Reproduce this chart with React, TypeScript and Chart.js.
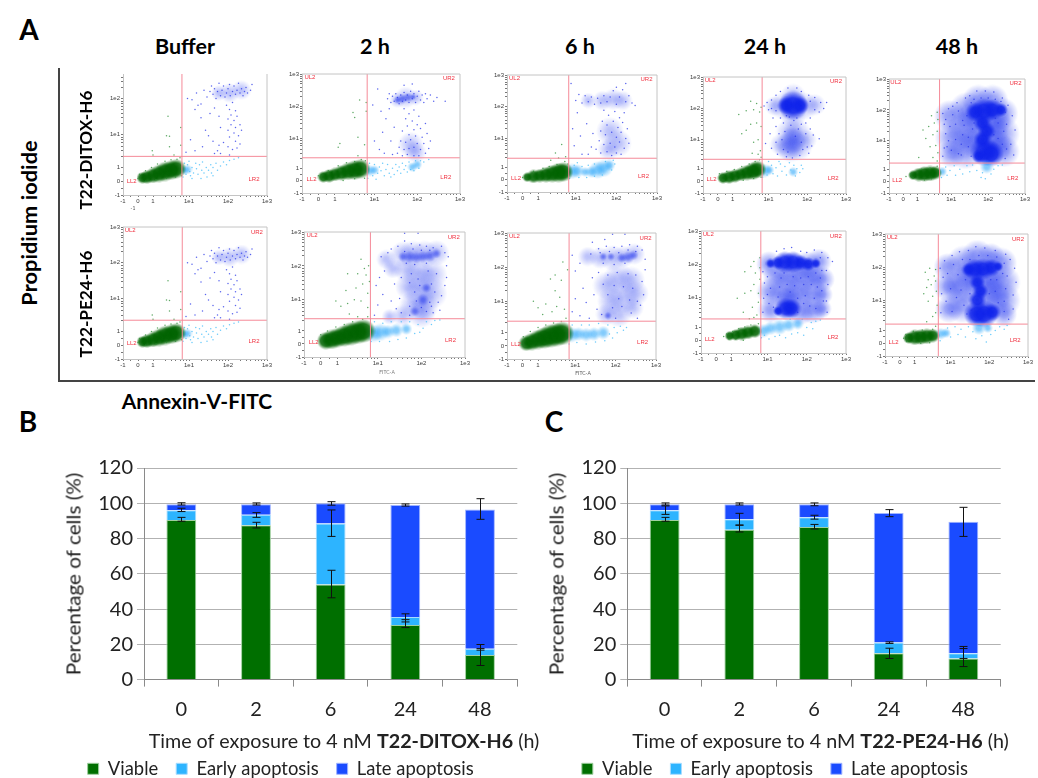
import React, { useEffect, useRef } from "react";
import { Chart, registerables } from "chart.js";
Chart.register(...registerables);

// ---------- Bar charts ----------
const hours = ["0", "2", "6", "24", "48"];
const legendNames = ["Viable", "Early apoptosis", "Late apoptosis"];
const bViable = [90.5, 87.5, 54, 31, 14];
const bEarly = [5.5, 6, 34.5, 4.5, 3.5];
const bLate = [3.5, 6, 11.5, 63.5, 79];
const cViable = [90.5, 85, 86.5, 15, 12];
const cEarly = [5.5, 6, 5.5, 6, 3];
const cLate = [3.5, 8.5, 7.5, 73.5, 74.5];
const bErrors = [
  [0, 89.8, 92], [0, 95.3, 97.2], [0, 99, 100.3],
  [1, 86, 89.2], [1, 92, 94.7], [1, 99, 100.2],
  [2, 46.4, 62], [2, 81.2, 96.2], [2, 98.9, 100.9],
  [3, 29.5, 34], [3, 32.7, 37.3], [3, 98.4, 99.6],
  [4, 8, 17.6], [4, 16.7, 19.9], [4, 90.9, 102.6],
];
const cErrors = [
  [0, 89.8, 92], [0, 93.7, 98.5], [0, 99, 100.2],
  [1, 83.7, 87.5], [1, 87.7, 94.3], [1, 99, 100.2],
  [2, 85.4, 88], [2, 91, 93.2], [2, 98.6, 100.2],
  [3, 12, 17.8], [3, 20.5, 21.4], [3, 92.4, 96.4],
  [4, 7.4, 17.6], [4, 12, 18.8], [4, 81.2, 97.7],
];

// ---------- Flow cytometry axes (display units of the biexponential axis) ----------
const axisTicks = [-1, 0, 1, 3.4, 6, 8.6];
const axisTickLabels = ["-1", "0", "1", "1e1", "1e2", "1e3"];
const minorTicks = [-0.5, 0.5, 1.8, 2.2, 2.5, 2.8, 3.0, 3.2, 4.2, 4.6, 4.9, 5.2, 5.4, 5.6, 5.8, 6.8, 7.2, 7.5, 7.8, 8.0, 8.2, 8.4];

// Buffer
const bufGreenCore = [[0.3,0.25,4],[0.6,0.3,5],[1,0.42,5.5],[1.4,0.55,6],[1.8,0.7,6.5],[2.2,0.8,7],[2.55,0.9,6.5]];
const bufGreenDots = [[0,0.2],[0.1,0.5],[0.5,0.75],[0.9,1],[1.3,1.25],[1.8,1.45],[2.2,1.55],[2.6,1.6],[2.8,1.7],[2.4,1.9],[1,1.9],[0.95,2.2],[2.1,2.5],[2.85,2.6],[1.9,3.3],[2.1,3.25],[2.85,3.9],[2,4.7],[0.5,0],[1.2,0.1],[1.9,0.2],[2.5,0.3],[2.9,0.4]];
const bufLightCore = [[3.05,0.8,3.5],[3.3,0.85,3]];
const bufLightDots = [[3,0.3],[3.1,1.3],[3.2,0.5],[3.3,1.2],[3.45,0.7],[3.4,1.45],[3.5,0.4],[3.6,1],[3.7,0.6],[3.85,1.3],[3.9,0.9],[4,0.5],[4.1,1.2],[4.25,0.8],[4.3,1.4],[4.4,0.6],[4.55,1],[4.6,0.3],[4.7,0.8],[4.85,1.2],[4.9,0.6],[5,1],[5.2,1.3],[5.3,0.8],[5.5,1.1],[5.7,1.4],[5.9,1.2],[6.1,1.5],[6.4,1.6],[6.7,1.7],[3.6,0.2],[4.2,0.2],[5,0.4]];
const bufBlueHaze = [[5.4,6.4,5],[6.1,6.4,6],[6.9,6.6,6]];
const bufBlueDots = [[3.6,5.9],[3.9,6.4],[4.2,5.6],[4.4,6.6],[4.6,6.1],[4.8,6.5],[4.9,6.9],[5,6.3],[5.1,6.7],[5.2,6],[5.3,6.5],[5.4,7.1],[5.5,6.2],[5.6,6.6],[5.7,6.9],[5.8,6.1],[5.9,6.4],[6,6.7],[6.1,7],[6.15,6.2],[6.3,6.5],[6.4,6.9],[6.5,6.3],[6.6,6.6],[6.7,7.1],[6.8,6.4],[6.9,6.7],[7,6.2],[7.1,6.5],[7.2,6.8],[7.3,6.4],[7.5,6.6],[7.6,7],[5.9,5.5],[6.1,5.2],[6.3,5.7],[6.5,5.1],[6.2,4.8],[6,4.5],[6.4,4.4],[6.6,4.7],[6.2,4.1],[6.5,3.9],[6.8,4.1],[6,3.7],[6.4,3.5],[6.7,3.3],[6.9,3.7],[6.1,3.2],[6.5,2.9],[6.8,2.7],[5.7,2.8],[6,2.5],[6.3,2.3],[6.6,2.4],[5.3,2.2],[5.4,2.6],[5.1,2],[5.5,2],[6.1,1.9],[3.2,2.1],[3.5,3],[3.8,5.2],[3.3,6],[4.2,4.6],[4.5,3.7],[4.7,3.3],[4.8,4.9],[5.1,5.3],[4.3,2.5],[5,2.9],[3.8,2.2],[4,5.5],[5.5,3.9],[5.4,4.7]];

// 2 h DITOX
const d2GreenCore = [[0.3,0.3,4],[0.65,0.38,4.5],[1,0.5,5],[1.4,0.62,5.5],[1.8,0.75,6],[2.2,0.85,6.5],[2.55,0.95,6.5]];
const d2GreenDots = [[0,0.4],[0.6,0.8],[1.2,1.2],[1.7,1.45],[2.2,1.55],[2.6,1.7],[2.85,1.6],[2.4,2],[1.2,2.7],[1.3,3],[2.4,3.5],[2.8,2.9],[2.1,5.5],[2.5,6.5],[2.9,6.3],[2.2,5.1],[2.9,5.6],[1.5,0],[2.2,0.15],[2.8,0.2]];
const d2LightCore = [[3.1,0.8,4],[3.4,0.85,3.5],[5.7,1.1,3.5],[6,1.3,3]];
const d2LightDots = [[3,0.2],[3.1,1.4],[3.3,0.4],[3.4,1.3],[3.6,0.6],[3.7,1.1],[3.8,0.8],[3.9,1.4],[4,0.4],[4.1,0.9],[4.2,1.3],[4.3,0.6],[4.5,1],[4.6,0.5],[4.7,1.3],[4.8,0.8],[4.9,1.1],[5,0.6],[5.1,1.4],[5.2,0.9],[5.3,1.2],[5.4,0.7],[5.5,1.5],[5.6,0.9],[5.8,0.8],[5.9,1.6],[6.1,1],[6.2,1.6],[6.4,1.5],[6.7,1.7],[3.5,0.1],[4.4,0.3]];
const d2BlueHaze = [[4.8,6.5,5],[5.3,6.7,7],[5.9,6.7,5],[5.6,2.9,8],[5.9,2.3,7]];
const d2BlueCore = [[4.8,6.5,2.5],[5.1,6.6,3],[5.45,6.7,3],[5.75,6.75,2]];
const d2BlueDots = [[4.2,6.6],[4.3,7],[4.4,6.3],[4.5,6.8],[4.6,6.4],[4.7,7],[4.8,6.7],[4.9,6.2],[5,6.9],[5.1,6.4],[5.2,7.1],[5.3,6.5],[5.4,6.9],[5.5,6.3],[5.6,7.2],[5.7,6.6],[5.8,7],[5.9,6.3],[6,6.8],[6.1,7.2],[6.2,6.5],[6.3,6.9],[6.4,6.3],[6.5,7],[6.6,6.6],[6.8,6.9],[7,6.4],[7.2,6.7],[7.7,6.4],[3.6,7.4],[5.2,7.7],[5.7,7.8],[5.2,5.8],[5.5,5.4],[5.8,5.7],[6.1,5.2],[5.3,5],[5.7,4.8],[6,4.5],[5.4,4.4],[5.8,4.1],[6.2,4.2],[6.5,4.6],[5.1,4],[5.5,3.7],[5.9,3.6],[6.3,3.5],[6.6,3.8],[6.8,3.2],[5,3.2],[5.3,3.1],[5.6,3.3],[6,3],[6.4,3],[6.7,2.6],[4.9,2.7],[5.2,2.5],[5.5,2.6],[5.8,2.7],[6.2,2.5],[6.5,2.2],[4.5,2.1],[4.8,2.2],[5.1,2],[5.4,2.1],[5.8,2],[6.1,2],[3.4,3.2],[3.7,2.5],[3.9,3.9],[4.1,5],[4.4,3.2],[3.8,5.6],[3.3,6.1],[4.6,4.3],[4.3,5.8],[4,2.2]];

// 6 h DITOX
const d6GreenCore = [[0.3,0.22,3.5],[0.7,0.28,4.5],[1.1,0.34,5],[1.5,0.42,5.5],[1.9,0.5,6],[2.3,0.58,6.5],[2.6,0.65,6.5]];
const d6GreenDots = [[0,0.2],[0.7,0.7],[1.3,0.95],[1.7,1.1],[2.2,1.25],[2.7,1.5],[2.9,1.3],[2.1,2.2],[2.5,2.9],[2.3,1.8],[1.8,1.6],[2.75,1.9]];
const d6LightCore = [[3.15,0.7,5.5],[3.5,0.72,5],[4,0.65,3.5],[4.4,0.65,4],[4.8,0.8,6],[5.2,0.95,6],[5.55,1.2,4]];
const d6LightDots = [[3,0.1],[3.3,1.2],[3.6,0.2],[3.8,1.1],[4.1,0.2],[4.2,1.2],[4.6,0.3],[4.6,1.3],[5.1,0.4],[5.3,1.5],[5.7,0.8],[5.8,1.6],[3.5,1.4],[5.9,1.3]];
const d6BlueHaze = [[4.2,6.5,5],[5.1,6.5,6],[5.8,6.6,7],[6.4,6.5,6],[5.6,4,9],[6.1,3,9],[5.5,2.5,7]];
const d6BlueDots = [[3.4,6.5],[3.6,7],[3.8,6.3],[4,6.9],[4.2,6.4],[4.4,6.8],[4.6,6.2],[4.8,6.7],[5,6.3],[5.2,6.9],[5.4,6.4],[5.6,6.8],[5.8,7.3],[6,6.2],[6.2,6.8],[6.4,7.4],[6.6,6.4],[6.8,6.9],[7,6.3],[7.2,6.1],[6,7.6],[6.6,7.9],[5.2,5.7],[5.5,5.3],[5.9,5.6],[6.2,5.1],[6.5,5.5],[5.1,4.8],[5.4,4.5],[5.8,4.8],[6.1,4.3],[6.4,4.7],[6.7,4.2],[5,4],[5.3,3.7],[5.7,3.9],[6,3.5],[6.3,3.9],[6.6,3.4],[6.8,3],[4.9,3.2],[5.2,2.9],[5.6,3],[5.9,2.7],[6.2,3.1],[6.5,2.6],[4.7,2.5],[5,2.2],[5.4,2.3],[5.7,2],[6,2.2],[6.3,2.1],[4.2,2.1],[3.3,2.8],[3.7,3.6],[4.1,4.6],[3.5,5.5],[3.2,4.2],[4.5,3.8],[4.4,2.7],[3.8,2.1],[3.1,7.9]];

// 24 h DITOX
const d24GreenCore = [[0.35,0.25,4],[0.75,0.32,4.5],[1.15,0.42,5],[1.55,0.55,5],[1.95,0.68,5.5],[2.35,0.8,6],[2.65,0.95,6]];
const d24GreenDots = [[0.1,0.6],[0.6,0.8],[1.1,0.95],[1.6,1.2],[2.1,1.4],[2.5,1.6],[2.8,1.75],[2.9,1.95],[2.7,2.2],[2.85,2.5],[2.3,2.3],[1.6,3.9],[2.4,3.2],[2.7,3.4],[1.9,4.2],[2.2,4.7],[2.6,4.8],[2.9,4.5],[1.4,5.5],[1.9,5.8],[2.4,5.9],[2.8,5.7],[2.6,6.4],[2.9,6.1],[2.2,6.6],[1.7,0.05],[2.4,0.2],[2.9,0.3]];
const d24LightCore = [[3.15,0.85,5],[3.45,0.9,3.5],[5.05,0.75,3.5]];
const d24LightDots = [[3,0.3],[3.3,0.5],[3.6,1.3],[3.7,0.6],[3.9,1.1],[4,0.4],[4.2,1.4],[4.3,0.8],[4.5,1.2],[4.6,0.5],[4.8,1.5],[4.9,0.9],[5.1,1.3],[5.2,0.4],[5.3,1],[5.5,0.7],[5.6,1.3],[5.7,1],[3.4,1.6],[4.1,1.6]];
const d24BlueHaze = [[3.8,6.2,6],[4.4,6.2,9],[5.8,6.2,9],[6.5,6.3,7],[5.05,7,8],[5.05,5.4,8],[4.8,4,9],[5.3,4,9],[4.7,2.8,9],[5.4,2.8,9],[5.05,3.3,8],[4.2,3,7],[5.9,3.4,7],[5,3.4,8],[4.9,2.6,8]];
const d24BlueCore = [[5.05,6.25,11],[4.6,6.25,6],[5.5,6.25,6]];
const d24BlueDots = [[3.1,6.2],[3.4,5.9],[3.6,6.7],[3.9,7.1],[3.3,6.5],[4.2,7.4],[4.7,7.7],[5.3,7.7],[5.6,7.4],[6.1,7.1],[6.5,6.9],[6.9,6.5],[7.1,6],[7.3,6.5],[6.8,5.7],[6.2,5.2],[5.9,4.8],[6.2,4.3],[6.4,3.8],[6.8,3.5],[6.3,2.9],[6.1,2.3],[4,2.2],[3.6,2.7],[3.5,3.9],[3.9,4.5],[4.2,5.2],[3.7,5.2],[3.2,3.1],[4.4,4.8],[4.6,5.4],[5.6,4.7],[5.5,2.1],[4.6,2],[5,1.9],[4.3,3.4],[4.5,4.1],[4.7,2.4],[4.9,4.6],[5.2,3.7],[5.4,4.3],[5.6,3.2],[5.7,2.6],[4.4,2.6],[4.1,3.9],[5.1,5],[4.8,5.3],[5.3,5.2],[3.9,3.2],[5.9,3.9],[6,2.8],[3.9,5.8],[6.2,6.6],[6.5,5.9],[3.6,6]];

// 48 h DITOX
const d48GreenCore = [[0.7,0.5,3.5],[1.1,0.55,5],[1.5,0.6,5.5],[1.9,0.65,5.5],[2.25,0.7,4.5]];
const d48GreenDots = [[0.2,0.4],[0.5,0.6],[0.7,0.25],[1.3,1],[1.9,1.1],[2.4,1.25],[1.5,0.1],[2,0.2],[2.4,1.7],[2.1,2],[2.45,2.4],[1.9,2.9],[2.3,3],[1.6,3.6],[2.1,3.9],[2.4,4.2],[1.4,4.3],[1.8,4.6],[2.2,4.9],[2.45,5.2],[2,5.5],[2.4,5.8],[1.1,2]];
const d48LightCore = [[2.75,0.8,3.5],[5.9,1.2,4.5]];
const d48LightDots = [[2.7,0.3],[3,1.2],[3.1,0.5],[3.3,0.9],[3.6,1.3],[3.7,0.5],[4,1],[4.2,0.6],[4.5,1.3],[4.7,0.8],[4.9,1.35],[5.2,0.9],[5.5,0.3],[5.6,0.7],[5.8,0.2],[6.2,0.6],[6.4,1],[6.7,1.3],[7,1.35]];
const d48BlueHaze = [[3.3,5.5,10],[3.5,3.7,11],[3.4,2.3,9],[4.5,6,11],[4.4,4.3,12],[4.4,2.5,11],[5.3,6.8,10],[6.3,6.8,10],[7,5.7,10],[6.9,4,12],[7.1,2.5,10],[5.9,4.2,13],[4.9,5.3,10],[5,3.3,10],[6.5,5,10],[6.6,3,10]];
const d48BlueCore = [[5.1,5.8,7],[5.7,5.9,9],[6.3,6,8],[6.9,6,5],[5.6,4.9,6],[5.9,4.2,6],[5.6,3.5,6],[5.75,2.5,11],[6.2,2.3,9],[5.35,2.1,5]];
const d48BlueDots = [[2.8,5.7],[3,5.2],[3.2,6.1],[3,4],[3.1,2.9],[2.8,2.1],[3.5,6.3],[3.8,6.6],[4.1,3.1],[4.2,5.1],[3.7,4.8],[3.9,2.3],[4.4,7],[4.7,7.2],[5.2,7.6],[5.8,7.6],[6.4,7.5],[7,7],[7.4,6.4],[7.7,5.5],[7.9,4.3],[7.6,3.1],[7.8,2.2],[7.3,4.8],[4.6,3.7],[4.9,4.4],[6.7,3.6],[7.2,1.9],[3.3,4.6],[3.5,5.6],[3.7,3.5],[3.4,2.6],[3.9,5.9],[4.2,3.9],[4.3,4.7],[4.5,5.5],[4.6,2.9],[4.1,2.2],[4.8,6.6],[5,6.9],[5.5,7],[6,7],[6.5,6.9],[6.9,6.7],[7.2,5.8],[7.1,4.2],[7,3.1],[6.7,4.9],[6.5,5.3],[6.4,3.9],[7.3,2.7],[5,4.9],[4.8,2.1],[3.2,3.4],[2.9,2.8],[2.9,4.8]];

// 2 h PE24
const p2GreenCore = [[0.3,0.25,6],[0.65,0.35,6.5],[1,0.48,7],[1.4,0.62,7.5],[1.8,0.78,8],[2.2,0.9,8.5],[2.55,1,8]];
const p2GreenDots = [[0,0.7],[0.4,1],[0.9,1.3],[1.4,1.5],[1.9,1.7],[2.5,1.9],[2.8,2.1],[2.2,2.1],[1.7,2.3],[0.9,3.3],[1.2,2.9],[1.6,3.1],[2,3.4],[2.4,3.3],[2.8,2.8],[1.5,4.1],[2.1,4.3],[2.5,4.6],[2.8,3.9],[2.7,5.3],[2.9,4.8],[1.6,5.4],[2.4,6.5],[2.85,6],[2.6,5.8],[2.2,5.4]];
const p2LightCore = [[3.15,0.8,6],[3.55,0.9,6],[4,0.95,5],[4.5,1.05,5],[5.1,1.15,4]];
const p2LightDots = [[3,0.2],[3.2,1.7],[3.5,0.2],[3.7,1.6],[4.1,0.2],[4.2,1.7],[4.6,0.35],[4.8,1.7],[5.1,0.45],[5.3,1.7],[5.6,0.8],[5.8,1.5],[6.1,1.2],[6.3,1.7],[6.6,1.5],[6.8,1.8],[7.1,1.85],[5.9,0.9]];
const p2BlueHaze = [[3.9,6.5,6],[4.3,5.8,6],[4.9,6.9,8],[5.5,6.9,9],[6.2,6.9,9],[6.9,7,8],[5.2,5.7,9],[5.9,5.2,10],[6.6,5.3,10],[5.2,4.4,8],[5.9,4,10],[6.6,3.9,10],[5.5,3,9],[6.2,2.9,9],[6,2.3,9],[4.9,2.2,7],[4.1,2.1,5]];
const p2BlueCore = [[4.9,6.7,3],[5.3,6.7,3.5],[5.7,6.65,4],[6.1,6.7,4],[6.5,6.75,3.5],[6.9,6.95,3],[6.1,3.4,3.5],[6.3,4.3,3],[5.6,2.5,3]];
const p2BlueDots = [[3.2,2.2],[3.4,3],[3.7,3.8],[3.3,4.5],[3.5,5.1],[3.8,5.6],[3.6,6.7],[4,7],[4.2,7.3],[4.6,7.5],[5,7.9],[5.4,7.7],[5.9,7.6],[6.3,7.5],[6.7,7.4],[7.2,7.5],[7.4,7],[7.6,6.7],[7.5,6],[7.5,5.1],[7.4,4.5],[7.2,3.7],[7,3.2],[7.1,2.6],[6.7,2.4],[4.2,3.3],[4.4,4.6],[4.5,2.7],[4.7,3.5],[4.8,5.1],[5,8.5],[5.8,8.5],[5,7.1],[5.5,7.3],[6,7.2],[6.5,7.2],[5.1,6.2],[5.6,6.1],[6.3,6.2],[5.4,5.4],[5.8,5],[6.4,5.6],[6.9,5.4],[5.3,4.7],[5.9,4.5],[6.6,4.6],[5.6,4],[6.8,4],[5.7,3.3],[6.5,3.2],[5.3,2.9],[6,2.8],[6.3,2.5],[4.8,2.4],[5.3,2.2],[6.6,2.9]];

// 6 h PE24
const p6GreenCore = [[0.25,0.2,5.5],[0.6,0.32,6],[1,0.48,7],[1.4,0.6,7.5],[1.8,0.75,8],[2.2,0.85,8.5],[2.55,0.95,8]];
const p6GreenDots = [[0.05,0.7],[0.5,1.1],[1,1.4],[1.5,1.6],[2,1.75],[2.5,1.85],[2.8,2.1],[1,2.9],[1.3,2.4],[1.5,3.2],[1.9,2.6],[2.2,3],[0.7,3.4],[2.1,4.2],[2.4,3.7],[1.8,5.1],[2.1,5.4],[2.6,6.4],[2.9,5.8],[2.5,5],[2.7,2.8]];
const p6LightCore = [[3.15,0.85,5.5],[3.6,0.9,5],[4.1,0.85,4.5],[4.6,0.9,5],[5.2,1,4.5]];
const p6LightDots = [[3,0.15],[3.2,1.6],[3.5,0.25],[3.8,1.6],[4.1,0.15],[4.3,1.6],[4.7,0.3],[4.9,1.7],[5.3,0.4],[5.5,1.6],[5.8,0.6],[5.9,1.4],[6.1,1],[6.3,1.5],[6.5,1.2],[6.7,1.4],[5.6,0.9]];
const p6BlueHaze = [[4.2,6.8,6],[5,6.7,7],[5.8,6.7,8],[6.5,6.8,7],[7.2,7,7],[5.4,4.6,9],[6.2,5.1,10],[7,5,9],[5.7,3.4,9],[6.5,3.7,10],[7.3,4,8],[5.4,2.4,7],[6.2,2.4,8],[7.1,2.9,7]];
const p6BlueCore = [[6.4,6.7,3],[6.8,6.75,3.5],[7.15,6.9,3],[5.2,6.8,2.5],[5.7,6.8,2.5],[5.5,2.3,2.5]];
const p6BlueDots = [[3.2,2.6],[3.4,3.6],[3.7,2.3],[3.9,4.4],[4.1,3.3],[4.3,2.1],[4.5,5.2],[3.4,5.7],[3.7,6.3],[3.2,6.9],[4.6,3.9],[4.8,2.8],[4.9,5.6],[4.9,7.4],[5.4,7.6],[5.9,7.5],[6.4,7.6],[6.9,7.7],[7.4,7.6],[7.7,7.3],[7.9,6.6],[7.9,5.8],[7.7,4.9],[7.8,3.9],[7.6,3.1],[7.4,2.1],[6.6,8.5],[5.8,8.5],[4.5,7.9],[5.3,8.1],[4.4,7],[5,7.1],[5.6,7.2],[6.2,7.1],[6.8,7.3],[7.3,7.2],[5.2,6.3],[5.9,6.2],[6.6,6.3],[5.5,5.4],[6.1,5.6],[6.8,5.5],[7.3,5.4],[5.2,4.7],[5.9,4.6],[6.5,4.5],[7.1,4.4],[5.5,3.9],[6.2,3.6],[6.9,3.5],[7.4,3.4],[5.8,2.9],[6.4,3],[7,2.5],[5.1,2.4],[6,2.1]];

// 24 h PE24
const p24GreenCore = [[0.9,0.35,3],[1.3,0.42,4],[1.7,0.52,4.5],[2.1,0.62,5],[2.55,0.72,5]];
const p24GreenDots = [[0.5,0.3],[0.7,0.5],[0.85,0.1],[1.1,0.7],[1.3,0.1],[1.5,0.9],[1.8,0],[1.9,1.05],[2.3,1.2],[2.5,1.8],[2.8,1.3],[2.2,1.7],[1.8,2.2],[2.7,2],[2.4,2.6],[2.8,3],[1.4,3.3],[1.9,3.7],[2.3,3.9],[2.8,3.7],[2.5,4.4],[2.9,4.8],[1.9,5.4],[2.3,5.8],[2.6,5.3],[2.9,5.7],[2.5,6.2],[2.9,6.5]];
const p24LightCore = [[3.15,0.75,4.5],[3.6,0.95,5],[4.2,1.05,5.5],[4.8,1.2,5],[5.4,1.3,4]];
const p24LightDots = [[3,0.2],[3.2,0.4],[3.5,0.1],[3.9,0.3],[4.2,0.4],[4.6,0.2],[5,0.5],[5.4,0.6],[5.8,0.4],[6,1],[6.3,1.4],[6.6,1.5],[6.9,1.6],[5.7,1.65],[4.9,1.65],[6.4,0.9]];
const p24BlueHaze = [[3.5,6,8],[6,5.9,9],[6.8,6.2,8],[4,5,9],[4.8,5,10],[5.6,5,10],[6.4,5,9],[7,4.8,8],[3.6,3.8,9],[4.5,3.7,10],[5.4,3.7,10],[6.3,3.7,10],[7,3.6,7],[3.6,2.4,8],[5.6,2.3,9],[6.4,2.4,9],[7,2.5,6],[4.8,3.1,9]];
const p24BlueCore = [[3.6,6.05,3],[4.1,6.1,5],[4.55,6.15,8],[5.1,6.15,7.5],[5.6,6.1,5.5],[6.1,6,4.5],[6.6,6.05,3.5],[4.6,2.5,7.5],[5,2.5,7],[4.1,2.3,3]];
const p24BlueDots = [[3.1,5.4],[3.2,4.5],[3.15,3.3],[3.1,2.2],[4,7],[4.5,7.2],[5,7.3],[5.6,7],[6,6.9],[6.5,7.1],[7,6.9],[7.4,6.5],[7.7,6.2],[7.3,5.5],[7.4,4.4],[7.3,3.1],[7.35,2.2],[5.8,4.4],[4.2,4.2],[5.2,4.3],[6.7,4.2],[3.4,5],[3.6,4.1],[3.5,2.9],[3.9,5.3],[4.1,3.4],[4.3,4.9],[4.5,5.3],[4.7,4.4],[4.9,3.8],[5.1,5],[5.4,3.3],[5.6,4.9],[5.9,3.5],[6.1,5],[6.3,4.4],[6.5,3.3],[6.6,5.3],[6.9,4.9],[7,3.9],[7.1,3.1],[6.2,2.7],[5.8,2.9],[5.4,2.2],[6.6,2.5],[7,5.5],[6.9,6.5],[3.4,3.6],[3.8,2.6]];

// 48 h PE24
const p48GreenCore = [[0.6,0.42,4],[1,0.47,5.5],[1.4,0.5,5.5],[1.8,0.55,5.5],[2.2,0.6,5]];
const p48GreenDots = [[0.25,0.4],[0.4,0.7],[0.45,0.15],[0.9,0.95],[1.4,0],[1.5,1.05],[2,0.05],[2.2,1.1],[2.4,1.35],[1.8,1.7],[2.2,2.1],[2.4,2.4],[2.5,3],[1.9,3.3],[2.2,3.7],[2.45,4.1],[1.6,3.9],[1.8,4.4],[2.1,4.6],[2.4,4.9],[1.9,5],[2.3,5.3],[1.7,5.6],[2.4,5.8],[2,5.9]];
const p48LightCore = [[2.75,0.75,4],[3.1,0.8,3],[5.3,1.2,4.5],[5.9,1.2,3.5]];
const p48LightDots = [[2.7,0.2],[3.2,1.2],[3.4,0.5],[3.7,1.3],[3.9,0.7],[4.1,1.1],[4.4,0.5],[4.6,1.3],[4.9,0.9],[5.1,0.35],[5.5,0.6],[5.8,0.1],[6.1,0.7],[6.4,1],[6.7,1.3],[7,1.1],[7.2,1.4]];
const p48BlueHaze = [[3.2,6,9],[3.3,4.5,10],[3.3,2.7,9],[4.3,6.3,11],[4.1,4.5,12],[4.2,3,11],[5.2,6.9,10],[6.1,6.8,9],[6.8,6.3,10],[6.9,4.8,11],[6.9,3.4,11],[7,2.3,8],[5.5,4.5,13],[6.2,3.6,11],[6.1,5.1,10],[4.7,5.3,10]];
const p48BlueCore = [[4.6,5.8,5],[5.05,5.8,8],[5.6,5.85,8],[6.15,5.95,6],[6.6,6.05,3.5],[5.2,4.8,5.5],[5.4,4.1,5.5],[5.2,3.4,6],[5.15,2.3,9],[5.65,2.3,10],[6.2,2.45,6.5]];
const p48BlueDots = [[2.7,5.9],[2.9,5.2],[2.8,3.9],[2.75,2.4],[3,6.5],[3.5,6.9],[4,7.2],[4.6,7.3],[5.1,7.6],[5.7,7.5],[6.4,7.3],[7.1,7],[7.4,6.6],[7.7,5.9],[7.8,4.8],[7.6,3.8],[7.6,2.7],[7.3,1.9],[4.7,3.9],[3.8,3.6],[4.8,2.6],[3.2,5.5],[3.4,4.3],[3.1,3.3],[3.5,2.5],[3.9,5.4],[4.1,4.2],[4.3,3],[4.4,5],[4.5,2.3],[4.7,6.6],[5.3,6.9],[5.9,6.9],[6.5,6.8],[7,6.3],[7.2,5.3],[7.1,4.3],[7,3.3],[7,2.5],[6.5,5],[6.4,4.1],[6.6,3.2],[6.1,5],[6,3.9],[6.9,5.5],[3.6,6.2],[4.2,6.6]];

const COLORS = {
  green: "#006f00", light: "#2db4ff", blue: "#1a4bff",
  dotGreen: "rgba(40,140,50,0.75)", dotLight: "rgba(70,190,250,0.8)", dotBlue: "rgba(35,50,232,0.75)",
  gate: "#f58a98", box: "#c4c4c4", region: "#f0303f", tick: "#3a3a3a",
};
// Soft marks: [red, green, blue, centre alpha, reach, flat part]
const CLOUD_GREEN = [0, 100, 0, 0.95, 1.4, 0.6];
const CLOUD_LIGHT = [40, 165, 250, 0.6, 1.4, 0.35];
const CLOUD_BLUE = [15, 35, 235, 0.95, 1.35, 0.5];
const CLOUD_MID = [20, 40, 235, 0.5, 1.5, 0.3];
const HAZE_BLUE = [50, 70, 240, 0.34, 1.55, 0.25];
const HAZE_DENSE = [40, 60, 240, 0.5, 1.55, 0.3];

const spriteCache = new Map<string, HTMLCanvasElement>();
function softSprite(style: number[], r: number) {
  const [cr, cg, cb, alpha, reach, flat] = style;
  const key = `${style.join()}|${r}`;
  const hit = spriteCache.get(key);
  if (hit) return hit;
  const R = Math.ceil(r * reach);
  const c = document.createElement("canvas");
  c.width = c.height = R * 2;
  const g = c.getContext("2d")!;
  const grad = g.createRadialGradient(R, R, 0, R, R, R);
  grad.addColorStop(0, `rgba(${cr},${cg},${cb},${alpha})`);
  grad.addColorStop(flat, `rgba(${cr},${cg},${cb},${alpha * 0.9})`);
  grad.addColorStop(1, `rgba(${cr},${cg},${cb},0)`);
  g.fillStyle = grad;
  g.fillRect(0, 0, R * 2, R * 2);
  spriteCache.set(key, c);
  return c;
}

type Panel = {
  left: number; top: number; right: number; bottom: number; yMax: number;
  gateX: number; gateY: number; showUpper: boolean; sets: any[]; core: number[]; haze: number[];
};

const bufferSets = [bufBlueDots, [], bufBlueHaze, bufLightDots, bufLightCore, bufGreenDots, bufGreenCore];
const panels: Panel[] = [
  { left: 122.7, top: 74, right: 266.7, bottom: 195.3, yMax: 7.77, gateX: 2.93, gateY: 1.8, showUpper: false, core: CLOUD_MID, haze: HAZE_BLUE, sets: bufferSets },
  { left: 302.3, top: 74, right: 460.7, bottom: 193.3, yMax: 8.6, gateX: 2.96, gateY: 1.84, showUpper: true, core: CLOUD_MID, haze: HAZE_BLUE, sets: [d2BlueDots, d2BlueCore, d2BlueHaze, d2LightDots, d2LightCore, d2GreenDots, d2GreenCore] },
  { left: 506.7, top: 74, right: 656.3, bottom: 191.7, yMax: 8.6, gateX: 2.95, gateY: 1.77, showUpper: true, core: CLOUD_MID, haze: HAZE_BLUE, sets: [d6BlueDots, [], d6BlueHaze, d6LightDots, d6LightCore, d6GreenDots, d6GreenCore] },
  { left: 703, top: 74, right: 846.3, bottom: 192.7, yMax: 8.6, gateX: 2.97, gateY: 1.79, showUpper: true, core: CLOUD_BLUE, haze: HAZE_BLUE, sets: [d24BlueDots, d24BlueCore, d24BlueHaze, d24LightDots, d24LightCore, d24GreenDots, d24GreenCore] },
  { left: 889, top: 74, right: 1027, bottom: 192.7, yMax: 8.6, gateX: 2.57, gateY: 1.52, showUpper: true, core: CLOUD_BLUE, haze: HAZE_DENSE, sets: [d48BlueDots, d48BlueCore, d48BlueHaze, d48LightDots, d48LightCore, d48GreenDots, d48GreenCore] },
  { left: 122.7, top: 226.7, right: 266.7, bottom: 358.7, yMax: 8.6, gateX: 2.95, gateY: 1.82, showUpper: true, core: CLOUD_MID, haze: HAZE_BLUE, sets: bufferSets },
  { left: 304, top: 230, right: 464.7, bottom: 357.3, yMax: 8.6, gateX: 2.96, gateY: 1.94, showUpper: true, core: CLOUD_MID, haze: HAZE_BLUE, sets: [p2BlueDots, p2BlueCore, p2BlueHaze, p2LightDots, p2LightCore, p2GreenDots, p2GreenCore] },
  { left: 506.7, top: 230.7, right: 656, bottom: 358.7, yMax: 8.6, gateX: 3.0, gateY: 1.88, showUpper: true, core: CLOUD_MID, haze: HAZE_BLUE, sets: [p6BlueDots, p6BlueCore, p6BlueHaze, p6LightDots, p6LightCore, p6GreenDots, p6GreenCore] },
  { left: 701, top: 229.3, right: 845.7, bottom: 353.3, yMax: 8.6, gateX: 2.96, gateY: 1.68, showUpper: true, core: CLOUD_BLUE, haze: HAZE_DENSE, sets: [p24BlueDots, p24BlueCore, p24BlueHaze, p24LightDots, p24LightCore, p24GreenDots, p24GreenCore] },
  { left: 884.7, top: 229.3, right: 1029.7, bottom: 356.7, yMax: 8.6, gateX: 2.58, gateY: 1.51, showUpper: true, core: CLOUD_BLUE, haze: HAZE_DENSE, sets: [p48BlueDots, p48BlueCore, p48BlueHaze, p48LightDots, p48LightCore, p48GreenDots, p48GreenCore] },
];
const regionLabels = [
  ["UL2", 0.05, 0.025], ["UR2", 0.93, 0.04], ["LL2", 0.06, 0.885], ["LR2", 0.91, 0.87],
];

const PAD = { left: 26, top: 8, right: 11, bottom: 14 };

function scatterConfig(p: Panel): any {
  const [bd, bc, bh, ld, lc, gd, gc] = p.sets;
  const pts = (a: number[][]) => a.map(([x, y]) => ({ x, y }));
  const blobs = (a: number[][]) => a.map(([x, y, r]) => ({ x, y, r }));
  const dot = (data: number[][], color: string) => ({ type: "scatter", data: pts(data), backgroundColor: color, pointRadius: 0.75, pointBorderWidth: 0, pointHoverRadius: 0 });
  const blob = (data: number[][], style: number[]) => ({
    type: "bubble", data: blobs(data), borderWidth: 0,
    pointStyle: (ctx: any) => softSprite(style, ctx.raw ? ctx.raw.r : 1),
  });
  const gate = (data: number[][]) => ({ type: "scatter", data: pts(data), showLine: true, borderColor: COLORS.gate, borderWidth: 1, pointRadius: 0 });
  const tickList = [...axisTicks, ...minorTicks];
  const axis = (max: number, isY: boolean) => ({
    type: "linear", min: -1, max,
    afterBuildTicks: (s: any) => { s.ticks = tickList.filter((v) => v <= max).map((value) => ({ value })); },
    afterFit: (s: any) => { if (isY) s.width = PAD.left; else s.height = PAD.bottom; },
    grid: { drawOnChartArea: false, color: "#777", tickLength: 2 },
    border: { color: COLORS.box, width: 1 },
    ticks: {
      autoSkip: false, maxRotation: 0, padding: 1, color: COLORS.tick,
      font: { family: "Liberation Sans", size: 6 },
      callback: (v: number) => { const i = axisTicks.indexOf(v); return i >= 0 ? axisTickLabels[i] : ""; },
    },
  });
  return {
    type: "scatter",
    data: {
      datasets: [
        gate([[p.gateX, -1], [p.gateX, p.yMax]]),
        gate([[-1, p.gateY], [8.6, p.gateY]]),
        dot(gd, COLORS.dotGreen), blob(gc, CLOUD_GREEN),
        dot(ld, COLORS.dotLight), blob(lc, CLOUD_LIGHT),
        dot(bd, COLORS.dotBlue), blob(bc, p.core), blob(bh, p.haze),
      ],
    },
    options: {
      responsive: false, animation: false, events: [],
      layout: { padding: { left: 0, top: PAD.top, right: PAD.right, bottom: 0 } },
      plugins: { legend: { display: false }, tooltip: { enabled: false } },
      scales: { x: axis(8.6, false), y: axis(p.yMax, true) },
    },
    plugins: [{
      id: "frame",
      afterDatasetsDraw(chart: any) {
        const { ctx, chartArea: a } = chart;
        ctx.save();
        ctx.strokeStyle = COLORS.box;
        ctx.lineWidth = 1;
        ctx.beginPath();
        if (p.showUpper) { ctx.moveTo(a.left, a.top); ctx.lineTo(a.right, a.top); }
        ctx.moveTo(a.right, a.top); ctx.lineTo(a.right, a.bottom);
        ctx.stroke();
        ctx.fillStyle = COLORS.region;
        ctx.font = "6px 'Liberation Sans'";
        ctx.textAlign = "center";
        ctx.textBaseline = "middle";
        regionLabels.forEach(([t, fx, fy]: any) => {
          if (!p.showUpper && t[0] === "U") return;
          ctx.fillText(t, a.left + fx * a.width, a.top + fy * a.height);
        });
        ctx.restore();
      },
    }],
  };
}

function barConfig(v: number[], e: number[], l: number[], errors: number[][], yWidth: number, padRight: number): any {
  const edge = (color: string, line: string) => ({ backgroundColor: color, borderColor: line, borderWidth: 1, barPercentage: 0.4, categoryPercentage: 1 });
  return {
    type: "bar",
    data: {
      labels: hours,
      datasets: [
        { label: legendNames[0], data: v, ...edge(COLORS.green, "#9fcf9f") },
        { label: legendNames[1], data: e, ...edge(COLORS.light, "#a8dcff") },
        { label: legendNames[2], data: l, ...edge(COLORS.blue, "#a0b4ff") },
      ],
    },
    options: {
      responsive: false, animation: false, events: [],
      layout: { padding: { left: 0, right: padRight, top: 18, bottom: 0 } },
      plugins: {
        tooltip: { enabled: false },
        legend: {
          position: "bottom",
          labels: { boxWidth: 11, boxHeight: 11, padding: 18, color: "#222", font: { family: "Lato", size: 18.4 } },
        },
      },
      scales: {
        x: {
          stacked: true,
          afterFit: (s: any) => { s.height = 62; },
          grid: { drawOnChartArea: false, color: "#8a8a8a", tickLength: 7, offset: true },
          border: { color: "#8a8a8a" },
          ticks: { color: "#222", padding: 11, font: { family: "Lato", size: 20 } },
        },
        y: {
          stacked: true, min: 0, max: 120,
          afterFit: (s: any) => { s.width = yWidth; },
          grid: { color: "#b2b2b2", lineWidth: 1, tickLength: 7 },
          border: { color: "#8a8a8a" },
          ticks: { stepSize: 20, color: "#222", padding: 4, font: { family: "Lato", size: 20 } },
        },
      },
    },
    plugins: [{
      id: "errorBars",
      afterDatasetsDraw(chart: any) {
        const { ctx, scales: { x, y } } = chart;
        ctx.save();
        ctx.strokeStyle = "#111";
        ctx.lineWidth = 1;
        errors.forEach(([i, lo, hi]) => {
          const cx = Math.round(x.getPixelForValue(i)) + 0.5;
          const y0 = y.getPixelForValue(lo), y1 = y.getPixelForValue(hi);
          ctx.beginPath();
          ctx.moveTo(cx, y0); ctx.lineTo(cx, y1);
          ctx.moveTo(cx - 4, y0); ctx.lineTo(cx + 4, y0);
          ctx.moveTo(cx - 4, y1); ctx.lineTo(cx + 4, y1);
          ctx.stroke();
        });
        ctx.restore();
      },
    }],
  };
}

const font = "Lato, 'Open Sans', sans-serif";
const label = (text: any, cx: number, cy: number, size: number, bold = true, rotate = false, color = "#000", stretch = 1) => (
  <div style={{
    position: "absolute", left: cx, top: cy, whiteSpace: "nowrap", fontFamily: font, fontSize: size,
    fontWeight: bold ? 700 : 400, color, lineHeight: 1,
    transform: `translate(-50%,-50%)${rotate ? " rotate(-90deg)" : ""} scaleX(${stretch})`,
  }}>{text}</div>
);

export default function App() {
  const scatterRefs = useRef<(HTMLCanvasElement | null)[]>([]);
  const barB = useRef<HTMLCanvasElement>(null);
  const barC = useRef<HTMLCanvasElement>(null);
  useEffect(() => {
    const charts: Chart[] = [];
    panels.forEach((p, i) => charts.push(new Chart(scatterRefs.current[i]!, scatterConfig(p))));
    charts.push(new Chart(barB.current!, barConfig(bViable, bEarly, bLate, bErrors, 100, 4.7)));
    charts.push(new Chart(barC.current!, barConfig(cViable, cEarly, cLate, cErrors, 78.3, 4.3)));
    return () => charts.forEach((c) => c.destroy());
  }, []);
  return (
    <div style={{ position: "absolute", left: 0, top: 0, width: 1038, height: 778, overflow: "hidden", background: "#fff" }}>
      {panels.map((p, i) => (
        <canvas key={i} ref={(el) => { scatterRefs.current[i] = el; }}
          width={Math.round(p.right - p.left + PAD.left + PAD.right)}
          height={Math.round(p.bottom - p.top + PAD.top + PAD.bottom)}
          style={{ position: "absolute", left: p.left - PAD.left, top: p.top - PAD.top, filter: "blur(0.35px)" }} />
      ))}
      <canvas ref={barB} width={478} height={338} style={{ position: "absolute", left: 44.3, top: 450 }} />
      <canvas ref={barC} width={456} height={338} style={{ position: "absolute", left: 549, top: 450 }} />

      <div style={{ position: "absolute", left: 58, top: 68, width: 2, height: 314, background: "#444" }} />
      <div style={{ position: "absolute", left: 58, top: 380, width: 977, height: 2, background: "#444" }} />

      {label("A", 29, 29, 28)}
      {label("B", 28, 421, 28)}
      {label("C", 554, 421, 28)}
      {label("Buffer", 185, 47, 21.5)}
      {label("2 h", 375, 47, 21.5)}
      {label("6 h", 580, 47, 21.5)}
      {label("24 h", 765, 47, 21.5)}
      {label("48 h", 957, 47, 21.5)}
      {label("Propidium iodide", 29, 223, 21.8, true, true)}
      {label("T22-DITOX-H6", 86, 150, 17.2, true, true)}
      {label("T22-PE24-H6", 86, 304, 17.2, true, true)}
      {label("Annexin-V-FITC", 197, 400, 21)}
      {label("FITC-A", 583, 373, 5, false, false, "#555")}
      {label("FITC-A", 387, 372, 5, false, false, "#777")}
      {label("-1", 133, 208, 5, false, false, "#555")}
      {label("Percentage of cells (%)", 73, 574, 19, false, true, "#222", 1.09)}
      {label("Percentage of cells (%)", 556, 574, 19, false, true, "#222", 1.09)}
      {label(<span>Time of exposure to 4 nM <b>T22-DITOX-H6</b> (h)</span>, 344, 741, 19.7, false, false, "#222")}
      {label(<span>Time of exposure to 4 nM <b>T22-PE24-H6</b> (h)</span>, 820.5, 741, 19.7, false, false, "#222")}
    </div>
  );
}
